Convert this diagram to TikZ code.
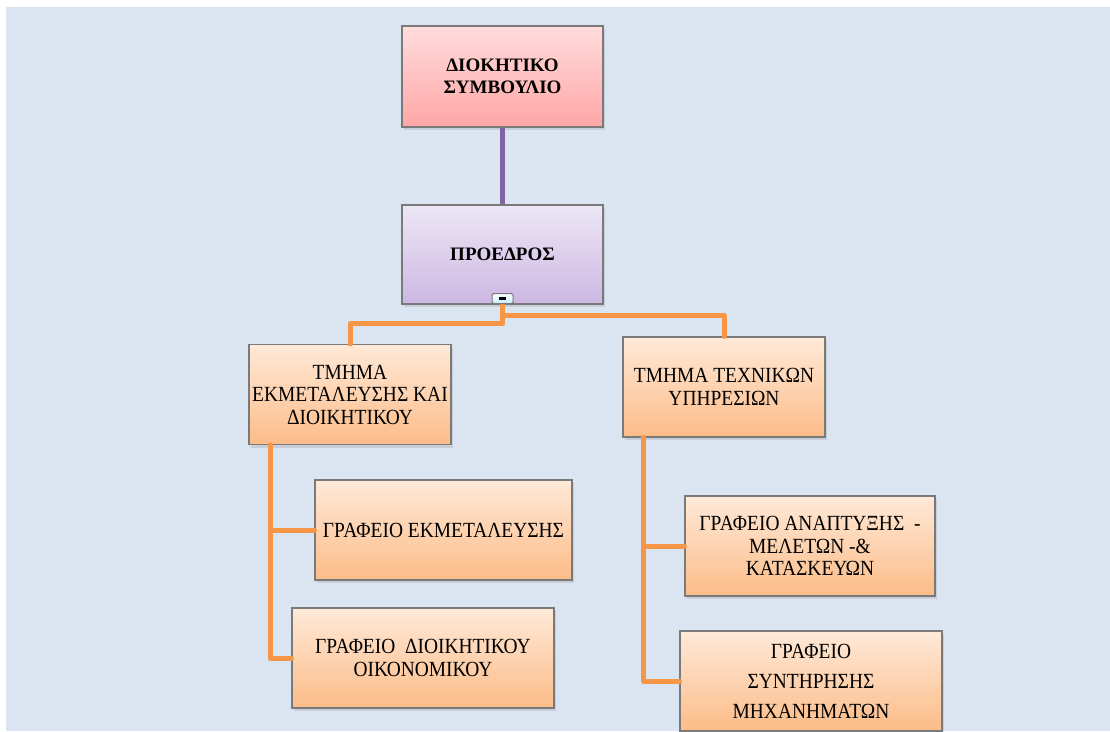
\documentclass[tikz,border=0pt]{standalone}
\usepackage{fontspec}
\setmainfont{Liberation Serif}
\newfontfamily\unitfont[FakeStretch=0.9]{Liberation Serif}
\usetikzlibrary{positioning,calc,shadows}

\definecolor{bgblue}{HTML}{DBE5F1}
\definecolor{framegray}{HTML}{7A7A7A}
\definecolor{linkorange}{HTML}{F79646}
\definecolor{linkpurple}{HTML}{8064A2}
\definecolor{pinktop}{HTML}{FFDCDC}
\definecolor{pinkbot}{HTML}{FFA6A6}
\definecolor{lilactop}{HTML}{EDE7F5}
\definecolor{lilacbot}{HTML}{CCB7E3}
\definecolor{peachtop}{HTML}{FFE9D8}
\definecolor{peachbot}{HTML}{FCBC88}
\definecolor{btncyan}{HTML}{C4EEF8}

\begin{document}
\begin{tikzpicture}[x=1pt,y=1pt,
    orgbox/.style={rectangle,draw=framegray,line width=1.2pt,align=center,inner sep=2pt,
        drop shadow={shadow xshift=2pt,shadow yshift=-3pt,opacity=0.22}},
    headbox/.style={orgbox,top color=pinktop,bottom color=pinkbot,
        minimum width=201pt,minimum height=101pt,
        font=\bfseries\fontsize{19}{22}\selectfont},
    chairbox/.style={orgbox,top color=lilactop,bottom color=lilacbot,
        minimum width=201pt,minimum height=99pt,
        font=\bfseries\fontsize{19}{22}\selectfont},
    unitbox/.style={orgbox,top color=peachtop,bottom color=peachbot,
        minimum height=100pt,font=\unitfont\fontsize{21.6}{22.5}\selectfont},
    orgline/.style={draw=linkorange,line width=5pt,line cap=round,line join=round},
    chairline/.style={draw=linkpurple,line width=4.5pt}
]
    \useasboundingbox (0,0) rectangle (1110,-731);
    \fill[bgblue] (6,-7) rectangle (1110,-731);

    % top of the chart
    \node[headbox] (board) at (502.5,-76.5) {ΔΙΟΚΗΤΙΚΟ\\ΣΥΜΒΟΥΛΙΟ};
    \node[chairbox] (chair) at (502.5,-254.5) {ΠΡΟΕΔΡΟΣ};
    \draw[chairline] (board) -- (chair);

    % departments
    \node[unitbox,minimum width=202pt] (deptA) at (350,-394.5) {ΤΜΗΜΑ\\ΕΚΜΕΤΑΛΕΥΣΗΣ ΚΑΙ\\ΔΙΟΙΚΗΤΙΚΟΥ};
    \node[unitbox,minimum width=202pt] (deptT) at (724,-387) {ΤΜΗΜΑ ΤΕΧΝΙΚΩΝ\\ΥΠΗΡΕΣΙΩΝ};

    % offices
    \node[unitbox,minimum width=257pt] (opsA) at (443.5,-530) {ΓΡΑΦΕΙΟ ΕΚΜΕΤΑΛΕΥΣΗΣ};
    \node[unitbox,minimum width=262pt] (finA) at (423,-658) {ΓΡΑΦΕΙΟ~ ΔΙΟΙΚΗΤΙΚΟΥ\\ΟΙΚΟΝΟΜΙΚΟΥ};
    \node[unitbox,minimum width=250pt] (devT) at (810,-546) {ΓΡΑΦΕΙΟ ΑΝΑΠΤΥΞΗΣ~ -\\ΜΕΛΕΤΩΝ -\&\\ΚΑΤΑΣΚΕΥΩΝ};
    \node[unitbox,minimum width=262pt,font=\unitfont\fontsize{21.6}{30}\selectfont] (mntT) at (811,-681) {ΓΡΑΦΕΙΟ\\ΣΥΝΤΗΡΗΣΗΣ\\ΜΗΧΑΝΗΜΑΤΩΝ};

    % connectors
    \draw[orgline] (chair.south) -- ++(0,-19) -| (deptA.north);
    \draw[orgline] ($(chair.south)+(0,-11)$) -| (deptT.north);
    \draw[orgline] ([xshift=-80pt]deptA.south) |- (opsA.west);
    \draw[orgline] ([xshift=-80pt]deptA.south) |- (finA.west);
    \draw[orgline] ([xshift=-81pt]deptT.south) |- (devT.west);
    \draw[orgline] ([xshift=-81pt]deptT.south) |- (mntT.west);

    % collapse button
    \node[rectangle,rounded corners=1.5pt,draw=framegray,line width=1pt,
        top color=white,bottom color=btncyan,minimum width=21pt,minimum height=10pt,
        inner sep=0pt] (btn) at ($(chair.south)+(0,6)$) {};
    \fill[black] ($(btn.center)+(-3.5,-1.3)$) rectangle ++(7,2.6);
\end{tikzpicture}
\end{document}
